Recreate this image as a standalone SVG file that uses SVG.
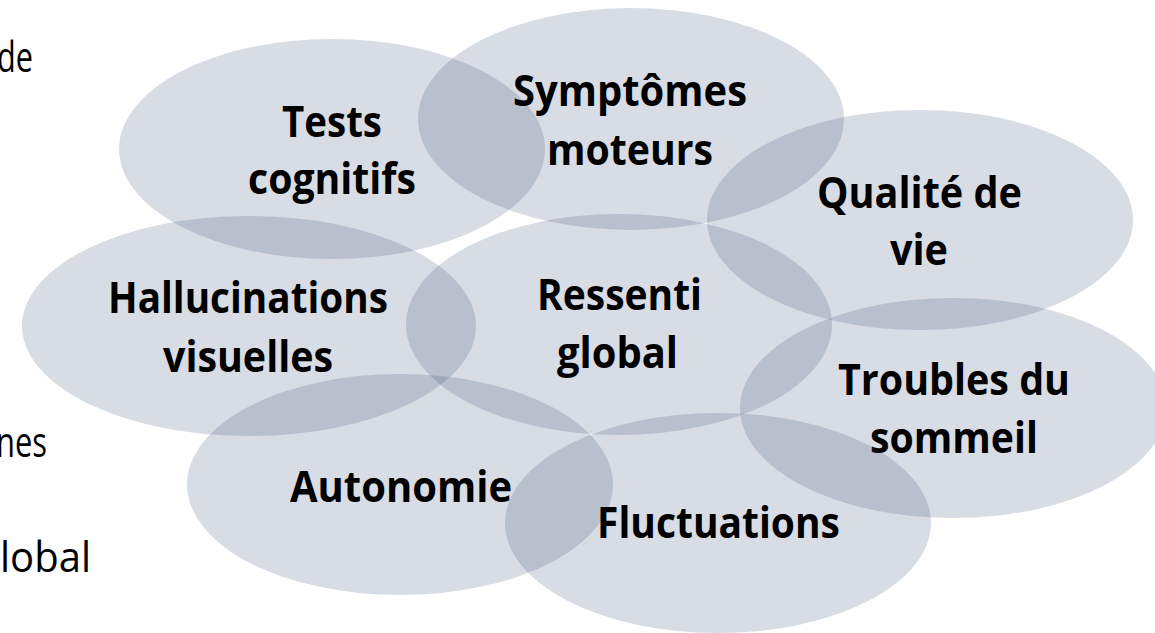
<svg xmlns="http://www.w3.org/2000/svg" width="1155" height="633" viewBox="0 0 1155 633">
  <style>
    .bubble { fill: #3A5078; fill-opacity: 0.2; stroke: none; }
    .label { font-family: "Open Sans", "Liberation Sans", sans-serif; font-weight: 700; font-size: 43px; fill: #000; text-anchor: middle; }
    .side { font-family: "Open Sans", "Liberation Sans", sans-serif; font-weight: 400; font-size: 42px; fill: #000; text-anchor: start; }
  </style>
  <rect x="0" y="0" width="1155" height="633" fill="#ffffff"/>

  <!-- slide text cut by the left edge -->
  <g id="side-text">
    <text class="side" x="-3" y="72" font-size="37" textLength="36" lengthAdjust="spacingAndGlyphs">de</text>
    <text class="side" x="-4" y="457" textLength="51" lengthAdjust="spacingAndGlyphs">nes</text>
    <text class="side" x="0" y="572" textLength="91" lengthAdjust="spacingAndGlyphs">lobal</text>
  </g>

  <!-- overlapping bubbles, no connectors in this diagram -->
  <g id="connectors"></g>

  <g id="tests-cognitifs">
    <ellipse class="bubble" cx="332" cy="149" rx="213" ry="110"/>
    <text class="label" x="332" y="137" textLength="100" lengthAdjust="spacingAndGlyphs">Tests</text>
    <text class="label" x="332" y="194" textLength="168" lengthAdjust="spacingAndGlyphs">cognitifs</text>
  </g>

  <g id="symptomes-moteurs">
    <ellipse class="bubble" cx="631" cy="119" rx="213" ry="111"/>
    <text class="label" x="630" y="106" textLength="234" lengthAdjust="spacingAndGlyphs">Symptômes</text>
    <text class="label" x="630" y="165" textLength="166" lengthAdjust="spacingAndGlyphs">moteurs</text>
  </g>

  <g id="qualite-de-vie">
    <ellipse class="bubble" cx="920" cy="220" rx="213" ry="110"/>
    <text class="label" x="919.5" y="208" textLength="205" lengthAdjust="spacingAndGlyphs">Qualité de</text>
    <text class="label" x="919" y="265" textLength="58" lengthAdjust="spacingAndGlyphs">vie</text>
  </g>

  <g id="hallucinations-visuelles">
    <ellipse class="bubble" cx="249" cy="326" rx="227" ry="110"/>
    <text class="label" x="248" y="313" textLength="280" lengthAdjust="spacingAndGlyphs">Hallucinations</text>
    <text class="label" x="248" y="372" textLength="170" lengthAdjust="spacingAndGlyphs">visuelles</text>
  </g>

  <g id="ressenti-global">
    <ellipse class="bubble" cx="619" cy="324.5" rx="213" ry="110.5"/>
    <text class="label" x="619.5" y="310" textLength="165" lengthAdjust="spacingAndGlyphs">Ressenti</text>
    <text class="label" x="617.5" y="368" textLength="121" lengthAdjust="spacingAndGlyphs">global</text>
  </g>

  <g id="troubles-du-sommeil">
    <ellipse class="bubble" cx="953" cy="408" rx="213" ry="110"/>
    <text class="label" x="954" y="395" textLength="232" lengthAdjust="spacingAndGlyphs">Troubles du</text>
    <text class="label" x="954" y="453" textLength="168" lengthAdjust="spacingAndGlyphs">sommeil</text>
  </g>

  <g id="autonomie">
    <ellipse class="bubble" cx="400" cy="484.5" rx="213" ry="110.5"/>
    <text class="label" x="401" y="502" textLength="222" lengthAdjust="spacingAndGlyphs">Autonomie</text>
  </g>

  <g id="fluctuations">
    <ellipse class="bubble" cx="718" cy="523" rx="213" ry="110"/>
    <text class="label" x="718.5" y="538" textLength="243" lengthAdjust="spacingAndGlyphs">Fluctuations</text>
  </g>
</svg>
